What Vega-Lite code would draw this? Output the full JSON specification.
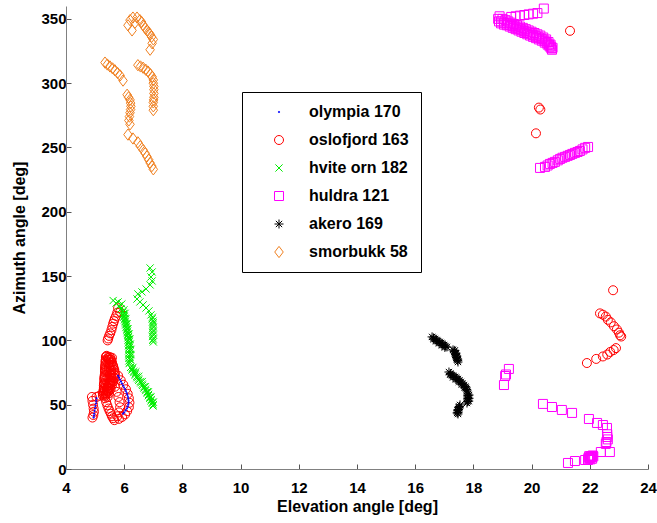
{
  "$schema": "https://vega.github.io/schema/vega-lite/v6.json",
  "width": 582,
  "height": 463,
  "autosize": {"type": "none"},
  "padding": {"left": 66, "top": 6, "right": 9, "bottom": 54},
  "background": "white",
  "config": {"view": {"stroke": null}, "font": "Liberation Sans"},
  "datasets": {
    "oslofjord": [
      {"el":5.86,"az":122},{"el":5.79,"az":125},{"el":5.76,"az":121.5},{"el":5.72,"az":119},{"el":5.68,"az":117},{"el":5.65,"az":115},{"el":5.62,"az":113},{"el":5.59,"az":110.5},{"el":5.56,"az":108},{"el":5.52,"az":105.5},{"el":5.48,"az":103.5},{"el":5.45,"az":101.5},{"el":5.43,"az":100},
      {"el":5.37,"az":87},{"el":5.36,"az":84},{"el":5.35,"az":81},{"el":5.34,"az":78},{"el":5.34,"az":75},{"el":5.33,"az":72},{"el":5.32,"az":69},{"el":5.31,"az":66},{"el":5.3,"az":63},{"el":5.29,"az":60},{"el":5.27,"az":57},
      {"el":5.51,"az":87},{"el":5.55,"az":85},{"el":5.58,"az":83},{"el":5.62,"az":80},{"el":5.66,"az":77},{"el":5.68,"az":74},{"el":5.67,"az":71},{"el":5.63,"az":68},{"el":5.58,"az":65},{"el":5.53,"az":62},{"el":5.48,"az":59},{"el":5.43,"az":56},
      {"el":5.44,"az":86},{"el":5.45,"az":82},{"el":5.47,"az":79},{"el":5.49,"az":76},{"el":5.5,"az":73},{"el":5.49,"az":70},{"el":5.46,"az":67},{"el":5.43,"az":64},{"el":5.4,"az":61},{"el":5.37,"az":58},
      {"el":5.4,"az":88},{"el":5.58,"az":86.5},{"el":5.42,"az":76.5},{"el":5.55,"az":72.5},{"el":5.38,"az":69},{"el":5.52,"az":67},{"el":5.35,"az":65},{"el":5.47,"az":63},{"el":5.33,"az":61},{"el":5.44,"az":60},
      {"el":5.38,"az":87.5},{"el":5.37,"az":85},{"el":5.36,"az":83},{"el":5.35,"az":80},{"el":5.35,"az":79},{"el":5.34,"az":77},{"el":5.34,"az":76},{"el":5.33,"az":73},{"el":5.32,"az":71},{"el":5.32,"az":70},{"el":5.31,"az":67},{"el":5.3,"az":65},{"el":5.3,"az":62},{"el":5.29,"az":61},{"el":5.28,"az":59},{"el":5.27,"az":58},
      {"el":5.46,"az":87},{"el":5.47,"az":85},{"el":5.49,"az":83},{"el":5.51,"az":81},{"el":5.53,"az":79},{"el":5.55,"az":77},{"el":5.56,"az":75},{"el":5.56,"az":73},{"el":5.55,"az":71},{"el":5.53,"az":69},{"el":5.5,"az":67},{"el":5.47,"az":65},{"el":5.44,"az":63},{"el":5.41,"az":61},{"el":5.38,"az":59},{"el":5.35,"az":57},
      {"el":5.52,"az":85},{"el":5.56,"az":83},{"el":5.6,"az":81},{"el":5.63,"az":79},{"el":5.65,"az":77},{"el":5.67,"az":75},{"el":5.66,"az":73},{"el":5.64,"az":71},{"el":5.61,"az":69},{"el":5.57,"az":67},{"el":5.53,"az":65},{"el":5.5,"az":63},{"el":5.46,"az":61},
      {"el":5.34,"az":55},{"el":5.38,"az":52},{"el":5.42,"az":49.5},{"el":5.46,"az":47},{"el":5.5,"az":45},{"el":5.54,"az":43},{"el":5.58,"az":41},{"el":5.62,"az":39.5},{"el":5.66,"az":38},
      {"el":4.89,"az":56},{"el":4.91,"az":53},{"el":4.93,"az":50},{"el":4.95,"az":47},{"el":4.96,"az":44.5},{"el":4.94,"az":42},{"el":4.91,"az":40},{"el":5.05,"az":56},{"el":5.15,"az":57},
      {"el":5.79,"az":72.5},{"el":5.88,"az":69},{"el":5.97,"az":65.5},{"el":6.06,"az":62},{"el":6.12,"az":58.5},{"el":6.16,"az":55},{"el":6.18,"az":51.5},{"el":6.16,"az":48},{"el":6.1,"az":45},{"el":6.03,"az":42.5},{"el":5.93,"az":40.5},{"el":5.82,"az":39},
      {"el":5.62,"az":68},{"el":5.68,"az":64},{"el":5.74,"az":60},{"el":5.8,"az":56},{"el":5.84,"az":52},{"el":5.86,"az":48},{"el":5.82,"az":44},{"el":5.76,"az":41},
      {"el":22.8,"az":139},{"el":22.35,"az":121},{"el":22.45,"az":120},{"el":22.55,"az":118.5},{"el":22.62,"az":116},{"el":22.72,"az":114},{"el":22.83,"az":111},{"el":22.93,"az":108.5},{"el":23.0,"az":106},{"el":23.04,"az":104},{"el":23.08,"az":103},
      {"el":22.9,"az":94},{"el":22.82,"az":92.5},{"el":22.7,"az":91},{"el":22.6,"az":89},{"el":22.45,"az":87.5},{"el":22.22,"az":85.6},{"el":21.9,"az":82.4},
      {"el":20.25,"az":281},{"el":20.3,"az":279.5},{"el":20.15,"az":261},{"el":21.32,"az":340.7}
    ],
    "hvite": [
      {"el":5.96,"az":122},{"el":5.97,"az":120},{"el":5.99,"az":118},{"el":6.01,"az":116},{"el":6.03,"az":114},{"el":6.05,"az":112},{"el":6.06,"az":110},{"el":6.08,"az":108},{"el":6.1,"az":106},{"el":6.12,"az":104},{"el":6.13,"az":102},{"el":6.13,"az":100},{"el":6.14,"az":98},{"el":6.15,"az":96},{"el":6.16,"az":94},{"el":6.16,"az":92},{"el":6.16,"az":90},{"el":6.16,"az":88},{"el":6.16,"az":86},{"el":6.16,"az":84},{"el":6.17,"az":82},
      {"el":6.03,"az":121},{"el":6.06,"az":117},{"el":6.1,"az":113},{"el":6.13,"az":109},{"el":6.17,"az":105},{"el":6.2,"az":101},{"el":6.21,"az":97},{"el":6.23,"az":93},{"el":6.23,"az":89},{"el":6.23,"az":85},
      {"el":5.99,"az":121},{"el":6.0,"az":119},{"el":6.02,"az":117},{"el":6.04,"az":115},{"el":6.06,"az":113},{"el":6.08,"az":111},{"el":6.1,"az":109},{"el":6.11,"az":107},{"el":6.13,"az":105},{"el":6.15,"az":103},{"el":6.16,"az":101},{"el":6.17,"az":99},{"el":6.18,"az":97},{"el":6.19,"az":95},{"el":6.2,"az":93},{"el":6.2,"az":91},{"el":6.2,"az":89},{"el":6.2,"az":87},{"el":6.2,"az":85},{"el":6.2,"az":83},
      {"el":6.22,"az":79},{"el":6.27,"az":77},{"el":6.33,"az":75},{"el":6.38,"az":73},{"el":6.44,"az":71},{"el":6.5,"az":69},{"el":6.57,"az":67},{"el":6.63,"az":65},{"el":6.68,"az":63},{"el":6.74,"az":61},{"el":6.79,"az":59},{"el":6.83,"az":57},{"el":6.88,"az":55},{"el":6.92,"az":53},{"el":6.96,"az":51},{"el":6.99,"az":49},
      {"el":6.27,"az":78},{"el":6.32,"az":76},{"el":6.38,"az":74},{"el":6.43,"az":72},{"el":6.49,"az":70},{"el":6.55,"az":68},{"el":6.62,"az":66},{"el":6.68,"az":64},{"el":6.73,"az":62},{"el":6.79,"az":60},{"el":6.84,"az":58},{"el":6.88,"az":56},{"el":6.93,"az":54},{"el":6.97,"az":52},{"el":7.0,"az":50},
      {"el":6.3,"az":79},{"el":6.4,"az":75.5},{"el":6.5,"az":72},{"el":6.62,"az":68},{"el":6.73,"az":64},{"el":6.83,"az":60},{"el":6.92,"az":56},{"el":7.0,"az":52},
      {"el":5.62,"az":131},{"el":5.72,"az":129},{"el":5.82,"az":126.8},{"el":5.89,"az":124.4},{"el":5.99,"az":123.7},{"el":5.79,"az":129.9},{"el":5.92,"az":128.3},
      {"el":6.89,"az":156.3},{"el":6.96,"az":153.2},{"el":6.92,"az":149.3},{"el":6.96,"az":146.2},{"el":6.89,"az":143.1},{"el":6.75,"az":140},{"el":6.61,"az":137.7},{"el":6.47,"az":136.1},
      {"el":6.44,"az":132.2},{"el":6.54,"az":129.9},{"el":6.65,"az":127.6},{"el":6.75,"az":125.2},{"el":6.85,"az":122.9},{"el":6.92,"az":119.8},{"el":6.96,"az":116.7},{"el":7.0,"az":113.6},{"el":7.0,"az":110.4},{"el":7.0,"az":107.3},{"el":7.0,"az":104.2},{"el":7.0,"az":101.1},{"el":7.0,"az":98.8},
      {"el":6.97,"az":118},{"el":6.99,"az":115},{"el":6.98,"az":112},{"el":6.97,"az":109},{"el":6.98,"az":106},{"el":6.97,"az":103},{"el":6.98,"az":100}
    ],
    "huldra": [
      {"el":18.85,"az":350},{"el":18.88,"az":348},{"el":18.95,"az":346.5},{"el":19.05,"az":345.5},{"el":19.15,"az":345},{"el":19.25,"az":344},{"el":19.35,"az":343},{"el":19.45,"az":342},{"el":19.55,"az":341},{"el":19.65,"az":340},{"el":19.75,"az":339},{"el":19.85,"az":338},{"el":19.95,"az":337},{"el":20.05,"az":336},{"el":20.15,"az":335},{"el":20.25,"az":334},{"el":20.35,"az":333},{"el":20.45,"az":331.5},{"el":20.55,"az":330},{"el":20.62,"az":328.5},{"el":20.68,"az":327},{"el":20.7,"az":326},
      {"el":18.9,"az":352},{"el":19.0,"az":350},{"el":19.1,"az":349},{"el":19.2,"az":348},{"el":19.3,"az":347},{"el":19.4,"az":346},{"el":19.5,"az":345},{"el":19.6,"az":344},{"el":19.7,"az":343},{"el":19.8,"az":342},{"el":19.9,"az":341},{"el":20.0,"az":340},{"el":20.1,"az":339},{"el":20.2,"az":338},{"el":20.3,"az":337},{"el":20.4,"az":335.5},{"el":20.5,"az":334},{"el":20.58,"az":332},{"el":20.65,"az":330},
      {"el":18.95,"az":348},{"el":19.05,"az":347},{"el":19.15,"az":346.5},{"el":19.25,"az":345.5},{"el":19.35,"az":344.5},{"el":19.45,"az":343.5},{"el":19.55,"az":342.5},{"el":19.65,"az":341.5},{"el":19.75,"az":340.5},{"el":19.85,"az":339.5},{"el":19.95,"az":338.5},{"el":20.05,"az":337.5},{"el":20.15,"az":336.5},{"el":20.25,"az":335.5},{"el":20.35,"az":334.5},{"el":20.45,"az":333},{"el":20.52,"az":331.5},{"el":20.6,"az":330},{"el":20.66,"az":328.5},{"el":20.72,"az":327.5},
      {"el":19.3,"az":351.5},{"el":19.45,"az":352},{"el":19.6,"az":352.5},{"el":19.75,"az":353},{"el":19.9,"az":353.5},{"el":20.05,"az":354},{"el":20.2,"az":354.5},{"el":20.42,"az":358},
      {"el":20.29,"az":234.1},{"el":20.46,"az":234.9},{"el":20.63,"az":237.2},{"el":20.8,"az":238.8},{"el":20.98,"az":241.1},{"el":21.15,"az":242.7},{"el":21.32,"az":244.2},{"el":21.49,"az":245.8},{"el":21.66,"az":247.3},{"el":21.84,"az":249.7},{"el":21.94,"az":250.4},
      {"el":20.55,"az":236},{"el":20.72,"az":238},{"el":20.9,"az":240},{"el":21.06,"az":242},{"el":21.24,"az":243.5},{"el":21.4,"az":245},{"el":21.58,"az":246.5},{"el":21.75,"az":248.5},
      {"el":19.22,"az":77.8},{"el":19.09,"az":72.3},{"el":19.05,"az":65.3},{"el":19.12,"az":73.5},
      {"el":20.39,"az":50.6},{"el":20.7,"az":48.2},{"el":21.04,"az":45.9},{"el":21.39,"az":43.6},{"el":21.97,"az":38.9},{"el":22.25,"az":35.8},{"el":22.45,"az":34.2},{"el":22.59,"az":31.9},{"el":22.6,"az":27},{"el":22.6,"az":24.9},{"el":22.62,"az":23},{"el":22.57,"az":21},{"el":22.55,"az":19.5},{"el":22.69,"az":13.2},{"el":22.38,"az":13.2},{"el":22.08,"az":9.3},{"el":22.0,"az":8.6},{"el":21.94,"az":7},{"el":21.84,"az":7},{"el":21.49,"az":6.2},{"el":21.25,"az":4.7},
      {"el":21.95,"az":8},{"el":22.0,"az":9},{"el":22.05,"az":10},{"el":22.1,"az":10.5},{"el":22.02,"az":7.5},{"el":21.98,"az":10},{"el":22.08,"az":8},{"el":22.04,"az":9.5},{"el":22.12,"az":9.8},{"el":21.96,"az":9}
    ],
    "akero": [
      {"el":16.58,"az":102.7},{"el":16.63,"az":101.9},{"el":16.68,"az":101.1},{"el":16.73,"az":100.3},{"el":16.78,"az":99.6},{"el":16.84,"az":98.8},{"el":16.89,"az":98},{"el":16.94,"az":97.2},{"el":16.99,"az":96.4},{"el":17.04,"az":95.6},{"el":17.09,"az":94.9},
      {"el":16.62,"az":100.9},{"el":16.72,"az":99.3},{"el":16.82,"az":97.7},{"el":16.92,"az":96.1},{"el":17.02,"az":94.5},
      {"el":17.3,"az":92.6},{"el":17.34,"az":91.4},{"el":17.37,"az":90.2},{"el":17.39,"az":89},{"el":17.4,"az":87.9},{"el":17.42,"az":86.7},{"el":17.44,"az":85.6},{"el":17.46,"az":84.4},{"el":17.47,"az":83.2},
      {"el":17.36,"az":92.2},{"el":17.4,"az":90},{"el":17.43,"az":87.8},{"el":17.46,"az":85.4},
      {"el":17.16,"az":75.4},{"el":17.21,"az":74.2},{"el":17.26,"az":73.1},{"el":17.31,"az":72.3},{"el":17.37,"az":71.6},{"el":17.42,"az":70.8},{"el":17.47,"az":70},{"el":17.52,"az":68.9},{"el":17.57,"az":67.7},{"el":17.62,"az":66.5},{"el":17.68,"az":65.3},{"el":17.72,"az":64.1},{"el":17.75,"az":63},{"el":17.77,"az":61.8},{"el":17.78,"az":60.7},
      {"el":17.2,"az":73.3},{"el":17.3,"az":71.2},{"el":17.4,"az":69.6},{"el":17.5,"az":67.8},{"el":17.6,"az":65.6},{"el":17.7,"az":63.2},
      {"el":17.81,"az":58.3},{"el":17.81,"az":57.1},{"el":17.81,"az":56},{"el":17.81,"az":54.8},{"el":17.81,"az":53.7},{"el":17.8,"az":52.5},{"el":17.78,"az":51.3},
      {"el":17.85,"az":57.5},{"el":17.85,"az":55},{"el":17.84,"az":52.8},
      {"el":17.54,"az":49.8},{"el":17.52,"az":48.6},{"el":17.51,"az":47.4},{"el":17.49,"az":46.2},{"el":17.47,"az":45.1},{"el":17.47,"az":43.9},{"el":17.47,"az":42.8},
      {"el":17.5,"az":48},{"el":17.46,"az":45.8},{"el":17.44,"az":43.6}
    ],
    "smorbukk": [
      {"el":6.2,"az":349},{"el":6.3,"az":351},{"el":6.13,"az":345},{"el":6.27,"az":341},{"el":6.44,"az":351},{"el":6.54,"az":349},{"el":6.65,"az":345},{"el":6.78,"az":341},{"el":6.89,"az":338},{"el":7.0,"az":334},{"el":6.96,"az":331},{"el":6.89,"az":326},
      {"el":6.37,"az":347},{"el":6.6,"az":347.5},{"el":6.72,"az":343},{"el":6.84,"az":339.5},{"el":6.94,"az":336},
      {"el":5.34,"az":316},{"el":5.51,"az":313},{"el":5.68,"az":310},{"el":5.86,"az":306},{"el":5.96,"az":302},{"el":5.42,"az":314.5},{"el":5.6,"az":311.5},{"el":5.77,"az":308},
      {"el":6.47,"az":314},{"el":6.65,"az":312},{"el":6.82,"az":309},{"el":6.96,"az":305},{"el":7.0,"az":300},{"el":7.02,"az":295},{"el":7.02,"az":289},{"el":7.0,"az":285},{"el":7.0,"az":279},
      {"el":6.56,"az":313},{"el":6.74,"az":310.5},{"el":6.9,"az":307},{"el":7.0,"az":302.5},{"el":7.02,"az":297.5},{"el":7.02,"az":292},{"el":7.01,"az":287},{"el":7.0,"az":282},
      {"el":6.1,"az":291},{"el":6.2,"az":287},{"el":6.23,"az":282},{"el":6.2,"az":277},{"el":6.16,"az":271},{"el":6.2,"az":268},{"el":6.15,"az":289},{"el":6.22,"az":284.5},{"el":6.22,"az":279.5},{"el":6.18,"az":274},
      {"el":6.13,"az":260},{"el":6.3,"az":257},{"el":6.47,"az":254},{"el":6.65,"az":248},{"el":6.78,"az":243},{"el":6.89,"az":238},{"el":7.0,"az":233},{"el":6.55,"az":251},{"el":6.72,"az":245.5},{"el":6.84,"az":240.5},{"el":6.95,"az":235.5}
    ],
    "olympia": [
      {"el":5.05,"az":55},{"el":5.04,"az":53},{"el":5.03,"az":51},{"el":5.01,"az":49},{"el":5.0,"az":47},{"el":4.98,"az":45},{"el":4.97,"az":43},{"el":4.96,"az":41.5},{"el":4.95,"az":40},
      {"el":5.79,"az":72.5},{"el":5.82,"az":71},{"el":5.86,"az":69.5},{"el":5.89,"az":68},{"el":5.92,"az":66.5},{"el":5.96,"az":65},{"el":5.99,"az":63.5},{"el":6.03,"az":62},{"el":6.06,"az":60.5},{"el":6.09,"az":59},{"el":6.11,"az":57.5},{"el":6.13,"az":56},{"el":6.14,"az":54.5},{"el":6.15,"az":53},{"el":6.15,"az":51.5},{"el":6.14,"az":50},{"el":6.12,"az":48.5},{"el":6.09,"az":47},{"el":6.05,"az":45.5},{"el":6.0,"az":44},{"el":5.96,"az":43}
    ]
  },
  "layer": [
    {"data": {"name": "oslofjord"}, "transform": [{"calculate": "'oslofjord 163'", "as": "ship"}], "mark": {"type": "point"}},
    {"data": {"name": "hvite"}, "transform": [{"calculate": "'hvite orn 182'", "as": "ship"}], "mark": {"type": "point"}},
    {"data": {"name": "huldra"}, "transform": [{"calculate": "'huldra 121'", "as": "ship"}], "mark": {"type": "point"}},
    {"data": {"name": "akero"}, "transform": [{"calculate": "'akero 169'", "as": "ship"}], "mark": {"type": "point"}},
    {"data": {"name": "smorbukk"}, "transform": [{"calculate": "'smorbukk 58'", "as": "ship"}], "mark": {"type": "point"}},
    {"data": {"name": "olympia"}, "transform": [{"calculate": "'olympia 170'", "as": "ship"}], "mark": {"type": "point"}}
  ],
  "encoding": {
    "x": {"field": "el", "type": "quantitative",
      "scale": {"domain": [4, 24], "nice": false, "zero": false},
      "axis": {"values": [4,6,8,10,12,14,16,18,20,22,24], "title": "Elevation angle [deg]", "grid": false,
        "tickSize": -5, "domainColor": "#808080", "tickColor": "#555555", "labelFlush": false, "labelOverlap": false,
        "labelFont": "Liberation Sans", "labelFontSize": 15, "labelFontWeight": "bold", "labelColor": "black", "labelPadding": 16,
        "titleFont": "Liberation Sans", "titleFontSize": 16, "titleFontWeight": "bold", "titleColor": "black", "titlePadding": 3}},
    "y": {"field": "az", "type": "quantitative",
      "scale": {"domain": [0, 360], "nice": false, "zero": false},
      "axis": {"values": [0,50,100,150,200,250,300,350], "title": "Azimuth angle [deg]", "grid": false,
        "tickSize": -5, "domainColor": "#808080", "tickColor": "#555555", "labelFlush": false, "labelOverlap": false,
        "labelFont": "Liberation Sans", "labelFontSize": 15, "labelFontWeight": "bold", "labelColor": "black", "labelPadding": 5,
        "titleFont": "Liberation Sans", "titleFontSize": 16, "titleFontWeight": "bold", "titleColor": "black", "titlePadding": 13}},
    "color": {"field": "ship", "type": "nominal",
      "scale": {"domain": ["olympia 170","oslofjord 163","hvite orn 182","huldra 121","akero 169","smorbukk 58"],
        "range": ["#0000ff","#ff0000","#00ee00","#ff00ff","#000000","#f08020"]},
      "legend": {"orient": "none", "legendX": 176, "legendY": 86, "title": null,
        "strokeColor": "black", "fillColor": "white", "padding": 12,
        "labelFont": "Liberation Sans", "labelFontSize": 16, "labelFontWeight": "bold", "labelColor": "black",
        "rowPadding": 12, "symbolOffset": 17, "labelOffset": 22, "symbolSize": 81, "symbolStrokeWidth": 1}},
    "shape": {"field": "ship", "type": "nominal",
      "scale": {"domain": ["olympia 170","oslofjord 163","hvite orn 182","huldra 121","akero 169","smorbukk 58"],
        "range": ["M-0.12,-0.12L0.12,-0.12L0.12,0.12L-0.12,0.12Z","circle","M-0.8,-0.8L0.8,0.8M-0.8,0.8L0.8,-0.8","square","M-1,0L1,0M0,-1L0,1M-0.7,-0.7L0.7,0.7M-0.7,0.7L0.7,-0.7","M0,-1.25L0.95,0L0,1.25L-0.95,0Z"]}},
    "size": {"value": 81},
    "strokeWidth": {"value": 1},
    "fill": {"value": "transparent"},
    "opacity": {"value": 1}
  }
}
